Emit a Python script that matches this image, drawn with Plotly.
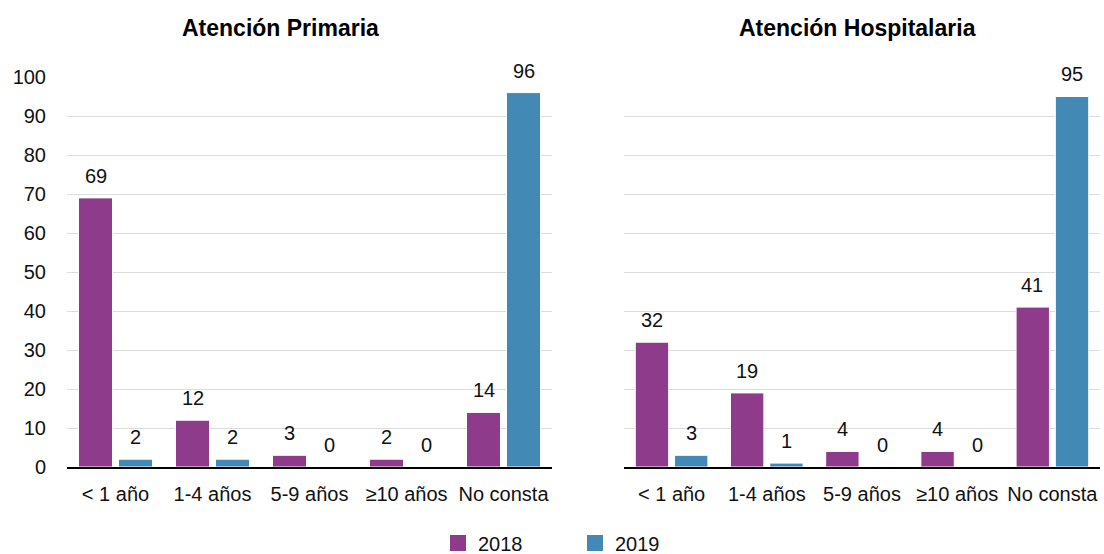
import plotly.graph_objects as go

categories = ["< 1 año", "1-4 años", "5-9 años", "≥10 años", "No consta"]
primaria_2018 = [69, 12, 3, 2, 14]
primaria_2019 = [2, 2, 0, 0, 96]
hospitalaria_2018 = [32, 19, 4, 4, 41]
hospitalaria_2019 = [3, 1, 0, 0, 95]
y_ticks = [0, 10, 20, 30, 40, 50, 60, 70, 80, 90, 100]

PURPLE = "#8E3B8C"
BLUE = "#4389B5"
FONT = "Liberation Sans, Arial, Helvetica, sans-serif"

fig = go.Figure()

panels = [
    ("x", "y", primaria_2018, primaria_2019),
    ("x2", "y2", hospitalaria_2018, hospitalaria_2019),
]

annotations = []
for xa, ya, s18, s19 in panels:
    for vals, color, shift in [(s18, PURPLE, -20), (s19, BLUE, 20)]:
        fig.add_trace(go.Bar(
            x=categories, y=vals, xaxis=xa, yaxis=ya,
            marker=dict(color=color, line=dict(color="white", width=1)),
            showlegend=False, hoverinfo="x+y",
        ))
        for c, v in zip(categories, vals):
            annotations.append(dict(
                x=c, y=v, xref=xa, yref=ya, text=str(v), showarrow=False,
                xshift=shift, yshift=9, yanchor="bottom",
                font=dict(size=20, color="#111111", family=FONT),
            ))

# legend entries
for name, color in [("2018", PURPLE), ("2019", BLUE)]:
    fig.add_trace(go.Scatter(
        x=[None], y=[None], mode="markers", name=name,
        marker=dict(symbol="square", size=16, color=color),
        showlegend=True,
    ))

annotations += [
    dict(x=280 / 1104, y=1 - 28 / 554, xref="paper", yref="paper",
         xanchor="center", yanchor="middle",
         text="<b>Atención Primaria</b>", showarrow=False,
         font=dict(size=23, color="black", family=FONT)),
    dict(x=857 / 1104, y=1 - 28 / 554, xref="paper", yref="paper",
         xanchor="center", yanchor="middle",
         text="<b>Atención Hospitalaria</b>", showarrow=False,
         font=dict(size=23, color="black", family=FONT)),
]

axis_common = dict(
    showline=True, linecolor="black", linewidth=1.5,
    ticks="", tickfont=dict(size=20, color="#111111", family=FONT),
    ticklabelstandoff=8,
)
yaxis_common = dict(
    range=[0, 100], tickvals=y_ticks, showgrid=True,
    gridcolor="#DCDCDC", gridwidth=1, zeroline=False,
    showline=False, ticks="",
    tickfont=dict(size=20, color="#111111", family=FONT),
    domain=[1 - 467 / 554, 1 - 77 / 554],
)

fig.update_layout(
    width=1104, height=554,
    margin=dict(l=0, r=0, t=0, b=0, autoexpand=False),
    paper_bgcolor="white", plot_bgcolor="white",
    barmode="group", bargap=0.175, bargroupgap=0.15,
    font=dict(family=FONT, color="#111111"),
    xaxis=dict(domain=[67 / 1104, 552 / 1104], anchor="y", **axis_common),
    xaxis2=dict(domain=[624 / 1104, 1100 / 1104], anchor="y2", **axis_common),
    yaxis=dict(anchor="x", ticklabelstandoff=20, **yaxis_common),
    yaxis2=dict(anchor="x2", showticklabels=False, **yaxis_common),
    legend=dict(
        orientation="h", x=0.5 + 23 / 1104, xanchor="center",
        yref="container", y=1 - 543 / 554, yanchor="middle",
        font=dict(size=20, color="#111111", family=FONT),
        entrywidth=92, entrywidthmode="pixels", itemclick=False,
    ),
    annotations=annotations,
    showlegend=True,
)

fig.write_html("out.html")
